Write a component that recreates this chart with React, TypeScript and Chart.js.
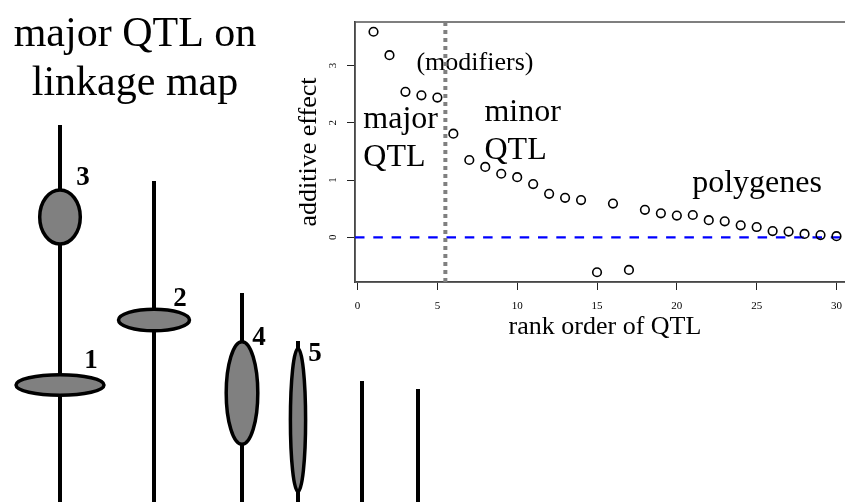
import React, { useEffect, useRef } from 'react';
import { Chart, registerables } from 'chart.js';

Chart.register(...registerables);

const SERIF = "'Liberation Serif', 'Times New Roman', serif";

// ---------- scatter plot data ----------
const qtlRank = [1, 2, 3, 4, 5, 6, 7, 8, 9, 10, 11, 12, 13, 14, 15, 16, 17, 18, 19, 20, 21, 22, 23, 24, 25, 26, 27, 28, 29, 30];
const additiveEffect = [3.59, 3.18, 2.54, 2.48, 2.44, 1.81, 1.35, 1.23, 1.11, 1.05, 0.93, 0.76, 0.69, 0.65, -0.61, 0.59, -0.57, 0.48, 0.42, 0.38, 0.39, 0.30, 0.28, 0.21, 0.18, 0.11, 0.10, 0.06, 0.04, 0.02];
const xTickValues = [0, 5, 10, 15, 20, 25, 30];
const yTickValues = [0, 1, 2, 3];
const xAxisMin = -0.16;
const xAxisMax = 31.16;
const yAxisMin = -0.78;
const yAxisMax = 3.76;
const zeroLevel = 0;
const majorCutoff = 5.5;

const annotationText = ['(modifiers)', 'major', 'QTL', 'minor', 'QTL', 'polygenes'];
const annotationX = [3.69, 0.36, 0.36, 7.95, 7.95, 20.96];
const annotationY = [2.93, 1.91, 1.24, 2.04, 1.37, 0.79];
const annotationSize = [26, 32, 32, 32, 32, 32];

// ---------- linkage map (schematic units) ----------
const mapWidth = 845;
const mapHeight = 502;
const chromosomeX = [60, 154, 242, 298, 362, 418];
const chromosomeTop = [125, 181, 293, 341, 381, 389];
const qtlLabel = ['1', '2', '3', '4', '5'];
const qtlChromosome = [0, 1, 0, 2, 3];
const qtlCenter = [385, 320, 217, 393, 420];
const qtlHalfWidth = [44, 35.5, 20.3, 15.8, 7.6];
const qtlHalfHeight = [10.3, 10.8, 27, 51.3, 71.6];
const qtlLabelX = [91, 180, 83, 259, 315];
const qtlLabelY = [368, 306, 185, 345, 361];
const mapTitle = ['major QTL on', 'linkage map'];
const mapTitleX = [135, 135];
const mapTitleY = [46, 95];

const PLOT_LEFT = 290;
const PLOT_W = 580;
const PLOT_H = 345;

export default function App() {
  const mapRef = useRef<HTMLCanvasElement | null>(null);
  const plotRef = useRef<HTMLCanvasElement | null>(null);

  useEffect(() => {
    Chart.defaults.font.family = SERIF;

    // ---- linkage map chart ----
    const mapPlugin = {
      id: 'mapDecor',
      afterDatasetsDraw(chart: any) {
        const { ctx, scales } = chart;
        const sx = scales.x;
        const sy = scales.y;
        ctx.save();
        for (let i = 0; i < qtlLabel.length; i++) {
          const cx = sx.getPixelForValue(chromosomeX[qtlChromosome[i]]);
          const cy = sy.getPixelForValue(qtlCenter[i]);
          const rx = Math.abs(sx.getPixelForValue(chromosomeX[qtlChromosome[i]] + qtlHalfWidth[i]) - cx);
          const ry = Math.abs(sy.getPixelForValue(qtlCenter[i] + qtlHalfHeight[i]) - cy);
          ctx.beginPath();
          ctx.ellipse(cx, cy, rx, ry, 0, 0, Math.PI * 2);
          ctx.fillStyle = '#808080';
          ctx.fill();
          ctx.lineWidth = 3.5;
          ctx.strokeStyle = '#000';
          ctx.stroke();
        }
        ctx.fillStyle = '#000';
        ctx.font = `bold 27px ${SERIF}`;
        ctx.textAlign = 'center';
        ctx.textBaseline = 'alphabetic';
        for (let i = 0; i < qtlLabel.length; i++) {
          ctx.fillText(qtlLabel[i], sx.getPixelForValue(qtlLabelX[i]), sy.getPixelForValue(qtlLabelY[i]));
        }
        ctx.font = `42px ${SERIF}`;
        for (let i = 0; i < mapTitle.length; i++) {
          ctx.fillText(mapTitle[i], sx.getPixelForValue(mapTitleX[i]), sy.getPixelForValue(mapTitleY[i]));
        }
        ctx.restore();
      },
    };

    const mapChart = new Chart(mapRef.current as HTMLCanvasElement, {
      type: 'scatter',
      data: {
        datasets: chromosomeX.map((x, i) => ({
          label: `chr${i + 1}`,
          data: [
            { x, y: chromosomeTop[i] },
            { x, y: mapHeight },
          ],
          showLine: true,
          borderColor: '#000',
          borderWidth: 4,
          pointRadius: 0,
          clip: false,
        })),
      },
      options: {
        responsive: false,
        animation: false,
        layout: { padding: 0 },
        plugins: { legend: { display: false }, tooltip: { enabled: false } },
        scales: {
          x: { type: 'linear', min: 0, max: mapWidth, display: false },
          y: { type: 'linear', min: 0, max: mapHeight, reverse: true, display: false },
        },
      },
      plugins: [mapPlugin],
    } as any);

    // ---- scatter chart ----
    const plotPlugin = {
      id: 'plotDecor',
      beforeDatasetsDraw(chart: any) {
        const { ctx, chartArea, scales } = chart;
        ctx.save();
        ctx.strokeStyle = '#555';
        ctx.lineWidth = 1.5;
        ctx.strokeRect(chartArea.left, chartArea.top, chartArea.right - chartArea.left, chartArea.bottom - chartArea.top);
        ctx.fillStyle = '#000';
        ctx.textAlign = 'left';
        ctx.textBaseline = 'alphabetic';
        for (let i = 0; i < annotationText.length; i++) {
          ctx.font = `${annotationSize[i]}px ${SERIF}`;
          ctx.fillText(annotationText[i], scales.x.getPixelForValue(annotationX[i]), scales.y.getPixelForValue(annotationY[i]));
        }
        ctx.restore();
      },
    };

    const plotChart = new Chart(plotRef.current as HTMLCanvasElement, {
      type: 'scatter',
      data: {
        datasets: [
          {
            label: 'QTL',
            data: qtlRank.map((r, i) => ({ x: r, y: additiveEffect[i] })),
            pointStyle: 'circle',
            pointRadius: 4.3,
            borderWidth: 1.6,
            borderColor: '#000',
            backgroundColor: 'rgba(0,0,0,0)',
            showLine: false,
            order: 0,
          },
          {
            label: 'cutoff',
            data: [
              { x: majorCutoff, y: yAxisMin },
              { x: majorCutoff, y: yAxisMax },
            ],
            showLine: true,
            borderColor: '#808080',
            borderWidth: 4,
            borderDash: [4, 4],
            pointRadius: 0,
            order: 1,
          },
          {
            label: 'zero',
            data: [
              { x: xAxisMin, y: zeroLevel },
              { x: xAxisMax, y: zeroLevel },
            ],
            showLine: true,
            borderColor: '#0000ff',
            borderWidth: 2.4,
            borderDash: [9.5, 8.8],
            pointRadius: 0,
            order: 2,
          },
        ],
      },
      options: {
        responsive: false,
        animation: false,
        layout: { padding: { left: 0, top: 22, right: 15, bottom: 0 } },
        plugins: { legend: { display: false }, tooltip: { enabled: false } },
        scales: {
          x: {
            type: 'linear',
            position: 'bottom',
            min: xAxisMin,
            max: xAxisMax,
            afterBuildTicks: (s: any) => {
              s.ticks = xTickValues.map((v) => ({ value: v }));
            },
            afterFit: (s: any) => {
              s.height = 63;
            },
            ticks: { color: '#000', font: { family: SERIF, size: 11 }, padding: 10, maxRotation: 0, minRotation: 0, autoSkip: false },
            grid: { drawOnChartArea: false, drawTicks: true, tickLength: 8, color: '#222', lineWidth: 1 },
            border: { display: true, color: '#222', width: 1.5 },
            title: {
              display: true,
              text: 'rank order of QTL',
              color: '#000',
              font: { family: SERIF, size: 26, lineHeight: 1.2 },
              padding: { top: 0, bottom: 2 },
            },
          },
          y: {
            type: 'linear',
            position: 'left',
            min: yAxisMin,
            max: yAxisMax,
            afterBuildTicks: (s: any) => {
              s.ticks = yTickValues.map((v) => ({ value: v }));
            },
            afterFit: (s: any) => {
              s.width = 65;
            },
            ticks: { color: '#000', font: { family: SERIF, size: 11 }, padding: 11, minRotation: 90, maxRotation: 90, crossAlign: 'center', autoSkip: false },
            grid: { drawOnChartArea: false, drawTicks: true, tickLength: 8, color: '#222', lineWidth: 1 },
            border: { display: true, color: '#222', width: 1.5 },
            title: {
              display: true,
              text: 'additive effect',
              color: '#000',
              font: { family: SERIF, size: 26, lineHeight: 1.2 },
              padding: { top: 4, bottom: 0 },
            },
          },
        },
      },
      plugins: [plotPlugin],
    } as any);

    return () => {
      mapChart.destroy();
      plotChart.destroy();
    };
  }, []);

  return (
    <div style={{ position: 'fixed', left: 0, top: 0, width: 845, height: 502, overflow: 'hidden', background: '#fff' }}>
      <canvas ref={mapRef} width={845} height={502} style={{ position: 'absolute', left: 0, top: 0, width: 845, height: 502 }} />
      <div style={{ position: 'absolute', left: PLOT_LEFT, top: 0, width: PLOT_W, height: PLOT_H }}>
        <canvas ref={plotRef} width={PLOT_W} height={PLOT_H} style={{ width: PLOT_W, height: PLOT_H }} />
      </div>
    </div>
  );
}
